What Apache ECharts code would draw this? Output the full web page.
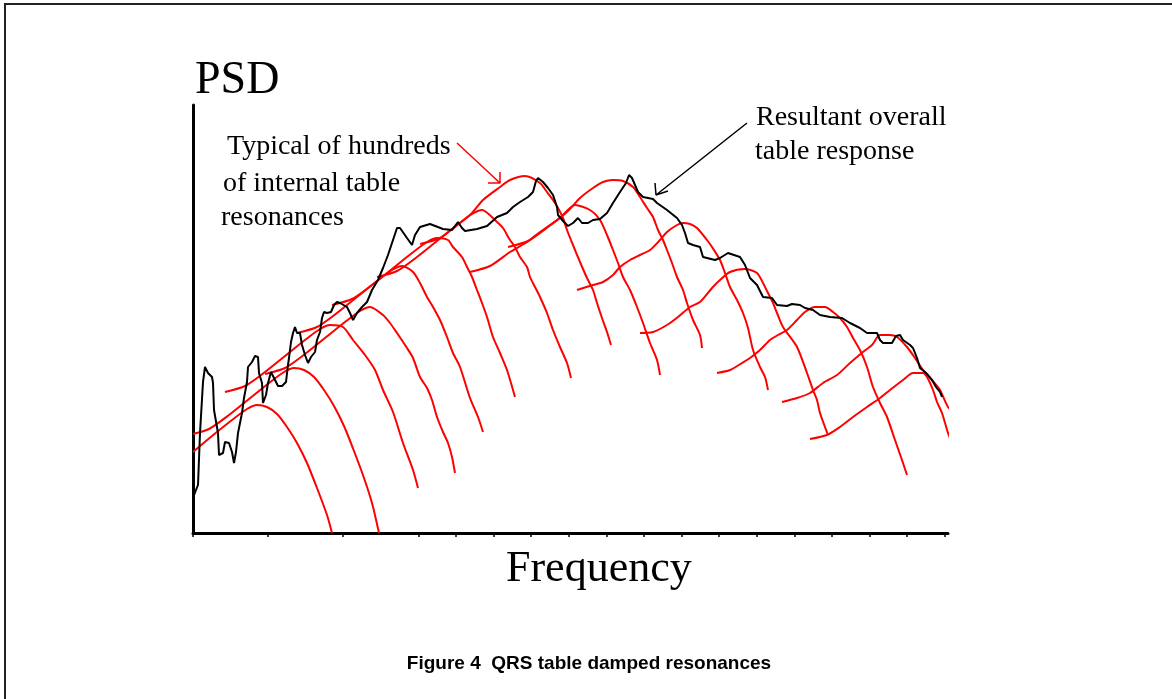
<!DOCTYPE html>
<html>
<head>
<meta charset="utf-8">
<script src="https://cdn.jsdelivr.net/npm/echarts@6/dist/echarts.min.js"></script>
<style>
  html, body { margin: 0; padding: 0; background: #fff; }
  #psd-chart { width: 1172px; height: 699px; }
</style>
</head>
<body>
<div id="psd-chart"></div>
<script>
// x: frequency (arbitrary units, 0..755), y: PSD (arbitrary units, 0..428)
const tickValues = [0, 75, 150, 226, 263, 301, 338, 376, 414, 451, 489, 526, 564, 602, 639, 677, 714, 752];

// black: resultant overall table response
const overallResponse = [
  [0, 35], [3, 43], [5, 48], [7, 100], [10, 151], [12, 166], [15, 160], [19, 156], [20, 150], [21, 123],
  [25, 100], [26, 78], [30, 80], [32, 91], [36, 90], [39, 81], [41, 70], [43, 81], [45, 100], [49, 120],
  [51, 135], [54, 151], [55, 166], [59, 171], [62, 177], [65, 176], [66, 160], [69, 150], [70, 130], [73, 138],
  [75, 150], [78, 161], [81, 155], [85, 147], [89, 147], [93, 151], [95, 168], [96, 175], [98, 191], [100, 200],
  [102, 206], [104, 200], [107, 200], [109, 188], [112, 178], [115, 170], [118, 176], [122, 181], [124, 193], [127, 201],
  [129, 215], [131, 221], [134, 220], [138, 221], [141, 228], [144, 231], [147, 230], [154, 226], [157, 220], [160, 213],
  [164, 220], [169, 226], [174, 231], [179, 243], [185, 253], [190, 265], [195, 278], [200, 293], [204, 305], [207, 305],
  [214, 295], [219, 288], [222, 298], [227, 306], [237, 309], [250, 304], [259, 303], [265, 311], [269, 305], [272, 302],
  [284, 304], [294, 307], [304, 316], [314, 320], [320, 326], [327, 331], [335, 336], [340, 341], [343, 352], [345, 355],
  [350, 351], [355, 345], [360, 338], [364, 326], [365, 318], [370, 312], [375, 307], [380, 310], [385, 315], [389, 310],
  [395, 310], [400, 313], [407, 314], [414, 320], [420, 330], [427, 341], [433, 350], [436, 358], [439, 355], [442, 348],
  [445, 341], [450, 336], [460, 334], [464, 330], [474, 323], [484, 315], [489, 308], [492, 300], [495, 290], [500, 288],
  [507, 286], [510, 276], [522, 273], [527, 275], [535, 280], [547, 276], [552, 268], [557, 255], [564, 248], [570, 236],
  [579, 235], [584, 228], [594, 227], [599, 229], [607, 228], [612, 225], [620, 223], [627, 218], [637, 216], [649, 215],
  [657, 210], [667, 205], [674, 200], [684, 200], [687, 193], [690, 190], [699, 190], [703, 197], [707, 198], [710, 193],
  [717, 188], [720, 185], [724, 175], [727, 165], [732, 161], [735, 158], [739, 153], [743, 146], [747, 141], [749, 136]
];

// red: individual internal table resonances
const res01 = [[0, 81], [19, 97], [39, 113], [54, 124], [64, 128], [74, 126], [84, 119], [94, 106], [104, 90], [114, 70], [124, 45], [134, 18], [139, 0]];
const res02 = [[0, 99], [16, 104], [36, 118], [56, 134], [76, 150], [91, 161], [101, 165], [111, 163], [121, 156], [131, 143], [141, 127], [151, 107], [161, 82], [171, 55], [179, 30], [186, 0]];
const res03 = [[32, 141], [52, 147], [72, 161], [92, 177], [112, 193], [127, 204], [137, 208], [150, 206], [160, 193], [172, 178], [182, 163], [190, 143], [200, 121], [210, 90], [220, 63], [225, 45]];
const res04 = [[72, 159], [92, 165], [112, 179], [132, 195], [152, 211], [167, 222], [177, 226], [190, 218], [197, 210], [204, 200], [214, 185], [220, 175], [227, 156], [234, 145], [239, 133], [244, 116], [250, 101], [255, 90], [259, 76], [262, 60]];
const res05 = [[104, 200], [124, 206], [144, 220], [164, 236], [184, 252], [199, 263], [209, 267], [220, 261], [227, 250], [234, 236], [240, 226], [247, 213], [254, 196], [260, 180], [267, 166], [277, 135], [285, 116], [290, 101]];
const res06 = [[139, 228], [159, 234], [179, 248], [199, 264], [219, 280], [234, 291], [244, 295], [255, 293], [260, 286], [269, 276], [274, 266], [279, 256], [284, 243], [289, 230], [294, 216], [300, 196], [307, 180], [314, 163], [322, 136]];
const res07 = [[184, 256], [204, 262], [224, 276], [244, 292], [264, 308], [279, 319], [289, 323], [304, 311], [310, 305], [317, 293], [322, 286], [327, 276], [334, 266], [337, 256], [342, 246], [347, 236], [354, 220], [360, 203], [367, 186], [374, 170], [378, 155]];
const res08 = [[227, 289], [247, 295], [267, 310], [279, 320], [290, 333], [307, 346], [317, 353], [332, 357], [347, 350], [354, 341], [360, 333], [365, 325], [370, 315], [374, 303], [380, 288], [387, 271], [394, 255], [400, 243], [404, 230], [409, 215], [414, 201], [418, 188]];
const res09 = [[277, 261], [297, 267], [317, 281], [334, 291], [347, 301], [357, 308], [367, 315], [382, 328], [397, 323], [407, 313], [414, 298], [420, 283], [425, 270], [430, 256], [437, 243], [444, 226], [450, 210], [457, 190], [464, 173], [467, 158]];
const res10 = [[315, 286], [335, 292], [355, 306], [375, 322], [387, 335], [400, 345], [410, 351], [420, 353], [430, 352], [440, 346], [447, 336], [454, 325], [460, 316], [465, 303], [470, 293], [474, 283], [479, 270], [484, 256], [490, 243], [494, 230], [500, 213], [507, 198], [509, 185]];
const res11 = [[384, 243], [400, 248], [410, 251], [420, 258], [427, 266], [437, 273], [447, 278], [457, 283], [467, 293], [474, 301], [484, 308], [490, 310], [497, 309], [504, 305], [514, 293], [519, 286], [527, 273], [532, 260], [537, 246], [544, 233], [550, 220], [555, 205], [560, 183], [567, 166], [572, 156], [575, 143]];
const res12 = [[447, 200], [460, 201], [474, 208], [485, 216], [497, 226], [507, 231], [519, 245], [527, 253], [537, 261], [552, 264], [564, 260], [570, 250], [575, 240], [580, 230], [584, 220], [590, 206], [604, 186], [614, 160], [620, 143], [624, 133], [627, 120], [635, 98]];
const res13 = [[524, 160], [537, 163], [549, 170], [557, 175], [567, 183], [577, 193], [585, 198], [594, 203], [604, 213], [612, 221], [622, 226], [632, 226], [640, 221], [647, 215], [654, 206], [660, 195], [667, 183], [674, 166], [680, 146], [687, 130], [694, 116], [702, 93], [710, 70], [714, 58]];
const res14 = [[589, 131], [604, 135], [617, 140], [630, 150], [644, 158], [657, 170], [670, 181], [679, 188], [687, 198], [697, 198], [704, 196], [714, 186], [722, 175], [730, 163], [739, 153], [747, 143], [755, 126], [762, 120]];
const res15 = [[617, 94], [634, 98], [647, 106], [660, 116], [674, 126], [687, 135], [697, 143], [710, 153], [720, 160], [730, 160], [734, 156], [740, 143], [744, 131], [749, 120], [755, 100], [759, 90], [763, 80]];

// annotation arrows (shaft + two arms of the open head)
const redArrow = [[264, 390], [307, 350], [295, 350], [307, 350], [307, 361]];
const blackArrow = [[554, 410], [463, 338], [462, 350], [463, 338], [475, 342]];

const resonances = [res01, res02, res03, res04, res05, res06, res07, res08, res09, res10, res11, res12, res13, res14, res15];

const serif = '"Liberation Serif", "Times New Roman", serif';

const option = {
  animation: false,
  backgroundColor: "#fff",
  grid: { left: 193, top: 105, width: 755, height: 428 },
  xAxis: {
    type: "value",
    min: 0,
    max: 755,
    axisLine: { lineStyle: { color: "#000", width: 3 } },
    axisTick: {
      show: true,
      inside: false,
      length: 4,
      customValues: tickValues,
      lineStyle: { color: "#000", width: 1.5 },
    },
    axisLabel: { show: false },
    splitLine: { show: false },
  },
  yAxis: {
    type: "value",
    min: 0,
    max: 428,
    axisLine: { show: true, lineStyle: { color: "#000", width: 3 } },
    axisTick: { show: false },
    axisLabel: { show: false },
    splitLine: { show: false },
  },
  series: [
    ...resonances.map((d) => ({
      type: "line",
      data: d,
      symbol: "none",
      smooth: 0.25,
      clip: false,
      z: 2,
      lineStyle: { color: "#ff0000", width: 2 },
    })),
    {
      type: "line",
      data: overallResponse,
      symbol: "none",
      z: 3,
      lineStyle: { color: "#000", width: 2 },
    },
    {
      type: "line",
      data: redArrow,
      symbol: "none",
      z: 3,
      lineStyle: { color: "#ff0000", width: 1.5 },
    },
    {
      type: "line",
      data: blackArrow,
      symbol: "none",
      z: 3,
      lineStyle: { color: "#000", width: 1.5 },
    },
  ],
  graphic: [
    // page frame (top and left edges)
    { type: "line", shape: { x1: 4, y1: 4, x2: 1172, y2: 4 }, style: { stroke: "#222", lineWidth: 2 } },
    { type: "line", shape: { x1: 5, y1: 3, x2: 5, y2: 699 }, style: { stroke: "#222", lineWidth: 2 } },
    { type: "text", left: 195, top: 58, style: { text: "PSD", font: "46px " + serif, fill: "#000" } },
    { type: "text", left: 506, top: 547, style: { text: "Frequency", font: "44px " + serif, fill: "#000" } },
    { type: "text", left: 227, top: 133, style: { text: "Typical of hundreds", font: "28px " + serif, fill: "#000" } },
    { type: "text", left: 223, top: 170, style: { text: "of internal table", font: "28px " + serif, fill: "#000" } },
    { type: "text", left: 221, top: 204, style: { text: "resonances", font: "28px " + serif, fill: "#000" } },
    { type: "text", left: 756, top: 104, style: { text: "Resultant overall", font: "28px " + serif, fill: "#000" } },
    { type: "text", left: 755, top: 138, style: { text: "table response", font: "28px " + serif, fill: "#000" } },
    {
      type: "text",
      x: 589,
      y: 664,
      style: {
        text: "Figure 4  QRS table damped resonances",
        font: 'bold 19px "Liberation Sans", Arial, sans-serif',
        fill: "#000",
        align: "center",
        verticalAlign: "middle",
      },
    },
  ],
};

const myChart = echarts.init(document.getElementById("psd-chart"));
myChart.setOption(option);

window.addEventListener("resize", () => {
  myChart.resize();
});
</script>
</body>
</html>
